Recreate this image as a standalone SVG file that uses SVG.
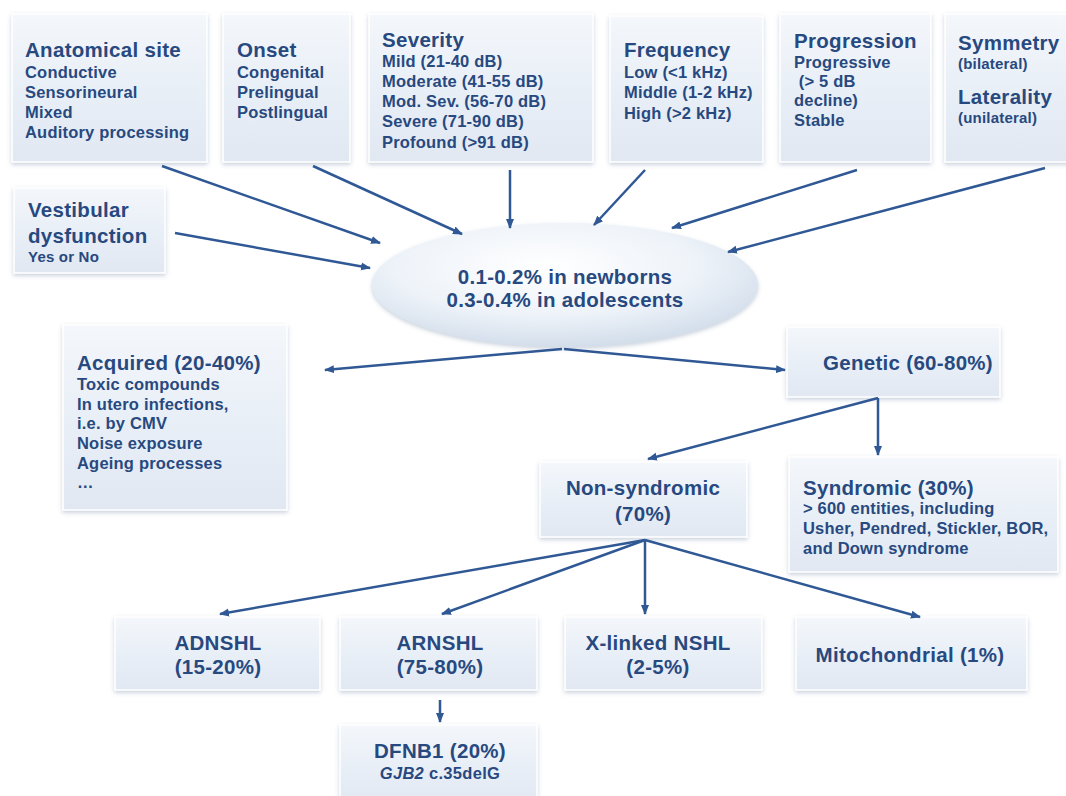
<svg xmlns="http://www.w3.org/2000/svg" width="1066" height="796" viewBox="0 0 1066 796">
<defs>
<linearGradient id="bx" x1="0" y1="0" x2="0" y2="1">
<stop offset="0" stop-color="#f4f7fb"/>
<stop offset="0.5" stop-color="#e9eff7"/>
<stop offset="1" stop-color="#e1e8f2"/>
</linearGradient>
<radialGradient id="el" cx="0.45" cy="0.35" r="0.65">
<stop offset="0" stop-color="#ffffff"/>
<stop offset="0.6" stop-color="#eef3f9"/>
<stop offset="1" stop-color="#d3deeb"/>
</radialGradient>
<filter id="sh" x="-10%" y="-10%" width="120%" height="130%">
<feDropShadow dx="0" dy="2" stdDeviation="2" flood-color="#8a9bb5" flood-opacity="0.45"/>
</filter>
<marker id="ah" viewBox="0 0 10 10" refX="9" refY="5" markerWidth="4" markerHeight="4" orient="auto" markerUnits="strokeWidth">
<path d="M0,1 L10,5 L0,9 Z" fill="#2f5895"/>
</marker>
<style>
.b{fill:url(#bx);stroke:#ffffff;stroke-width:1.5;filter:url(#sh)}
text{font-family:"Liberation Sans",Arial,sans-serif;font-weight:bold;fill:#27497f}
.t{font-size:20.5px;letter-spacing:0.3px}
.i{font-size:16.5px;letter-spacing:0.2px}
.s{font-size:15px;letter-spacing:0.2px}
.m{font-size:20.5px;letter-spacing:0.3px;text-anchor:middle}
.c line{stroke:#2f5895;stroke-width:2.5;marker-end:url(#ah)}
</style>
</defs>

<g id="anatomical">
<rect class="b" x="12" y="14" width="195" height="148"/>
<text class="t" x="25" y="57">Anatomical site</text>
<text class="i" x="25" y="78">Conductive</text>
<text class="i" x="25" y="98">Sensorineural</text>
<text class="i" x="25" y="118">Mixed</text>
<text class="i" x="25" y="138">Auditory processing</text>
</g>
<g id="onset">
<rect class="b" x="223" y="14" width="127" height="148"/>
<text class="t" x="237" y="57">Onset</text>
<text class="i" x="237" y="78">Congenital</text>
<text class="i" x="237" y="98">Prelingual</text>
<text class="i" x="237" y="118">Postlingual</text>
</g>
<g id="severity">
<rect class="b" x="369" y="14" width="224" height="148"/>
<text class="t" x="382" y="47">Severity</text>
<text class="i" x="382" y="67">Mild (21-40 dB)</text>
<text class="i" x="382" y="87">Moderate (41-55 dB)</text>
<text class="i" x="382" y="107">Mod. Sev. (56-70 dB)</text>
<text class="i" x="382" y="127">Severe (71-90 dB)</text>
<text class="i" x="382" y="148">Profound (&gt;91 dB)</text>
</g>
<g id="frequency">
<rect class="b" x="610" y="16" width="153" height="146"/>
<text class="t" x="624" y="57">Frequency</text>
<text class="i" x="624" y="78">Low (&lt;1 kHz)</text>
<text class="i" x="624" y="98">Middle (1-2 kHz)</text>
<text class="i" x="624" y="119">High (&gt;2 kHz)</text>
</g>
<g id="progression">
<rect class="b" x="780" y="14" width="151" height="148"/>
<text class="t" x="794" y="48">Progression</text>
<text class="i" x="794" y="68">Progressive</text>
<text class="i" x="794" y="87" xml:space="preserve"> (&gt; 5 dB</text>
<text class="i" x="794" y="106">decline)</text>
<text class="i" x="794" y="126">Stable</text>
</g>
<g id="symmetry">
<rect class="b" x="945" y="14" width="125" height="148"/>
<text class="t" x="958" y="50">Symmetry</text>
<text class="s" x="958" y="69">(bilateral)</text>
<text class="t" x="958" y="104">Laterality</text>
<text class="s" x="958" y="123">(unilateral)</text>
</g>
<g id="vestibular">
<rect class="b" x="14" y="188" width="151" height="85"/>
<text class="t" x="28" y="217">Vestibular</text>
<text class="t" x="28" y="243">dysfunction</text>
<text class="s" x="28" y="262">Yes or No</text>
</g>
<g id="prevalence">
<ellipse cx="565" cy="285" rx="193" ry="62" fill="url(#el)" filter="url(#sh)"/>
<text class="m" x="565" y="284">0.1-0.2% in newborns</text>
<text class="m" x="565" y="307">0.3-0.4% in adolescents</text>
</g>
<g id="acquired">
<rect class="b" x="63" y="325" width="224" height="185"/>
<text class="t" x="77" y="370">Acquired (20-40%)</text>
<text class="i" x="77" y="390">Toxic compounds</text>
<text class="i" x="77" y="410">In utero infections,</text>
<text class="i" x="77" y="429">i.e. by CMV</text>
<text class="i" x="77" y="449">Noise exposure</text>
<text class="i" x="77" y="469">Ageing processes</text>
<text class="i" x="77" y="488">…</text>
</g>
<g id="genetic">
<rect class="b" x="787" y="327" width="213" height="70"/>
<text class="m" x="908" y="370">Genetic (60-80%)</text>
</g>
<g id="nonsyndromic">
<rect class="b" x="540" y="462" width="207" height="75"/>
<text class="m" x="643" y="495">Non-syndromic</text>
<text class="m" x="643" y="521">(70%)</text>
</g>
<g id="syndromic">
<rect class="b" x="789" y="457" width="269" height="115"/>
<text class="t" x="803" y="495">Syndromic (30%)</text>
<text class="i" x="803" y="514">&gt; 600 entities, including</text>
<text class="i" x="803" y="534">Usher, Pendred, Stickler, BOR,</text>
<text class="i" x="803" y="554">and Down syndrome</text>
</g>
<g id="adnshl">
<rect class="b" x="115" y="617" width="205" height="73"/>
<text class="m" x="218" y="650">ADNSHL</text>
<text class="m" x="218" y="674">(15-20%)</text>
</g>
<g id="arnshl">
<rect class="b" x="340" y="617" width="197" height="73"/>
<text class="m" x="440" y="650">ARNSHL</text>
<text class="m" x="440" y="674">(75-80%)</text>
</g>
<g id="xlinked">
<rect class="b" x="565" y="617" width="197" height="73"/>
<text class="m" x="658" y="650">X-linked NSHL</text>
<text class="m" x="658" y="674">(2-5%)</text>
</g>
<g id="mitochondrial">
<rect class="b" x="796" y="617" width="231" height="73"/>
<text class="m" x="910" y="662">Mitochondrial (1%)</text>
</g>
<g id="dfnb1">
<rect class="b" x="340" y="725" width="197" height="80"/>
<text class="m" x="440" y="758">DFNB1 (20%)</text>
<text class="m" x="440" y="779" style="font-size:16.5px"><tspan font-style="italic">GJB2</tspan> c.35delG</text>
</g>

<g id="connectors" class="c">
<line x1="162" y1="166" x2="380" y2="243"/>
<line x1="313" y1="166" x2="462" y2="234"/>
<line x1="175" y1="233" x2="370" y2="268"/>
<line x1="510" y1="170" x2="510" y2="228"/>
<line x1="645" y1="170" x2="594" y2="225"/>
<line x1="857" y1="170" x2="672" y2="228"/>
<line x1="1045" y1="168" x2="728" y2="252"/>
<line x1="562" y1="349" x2="325" y2="370"/>
<line x1="564" y1="349" x2="785" y2="370"/>
<line x1="878" y1="398" x2="648" y2="459"/>
<line x1="878" y1="398" x2="878" y2="455"/>
<line x1="645" y1="540" x2="220" y2="614"/>
<line x1="645" y1="540" x2="442" y2="614"/>
<line x1="645" y1="540" x2="645" y2="614"/>
<line x1="645" y1="540" x2="920" y2="617"/>
<line x1="440" y1="700" x2="440" y2="722"/>
</g>
</svg>
